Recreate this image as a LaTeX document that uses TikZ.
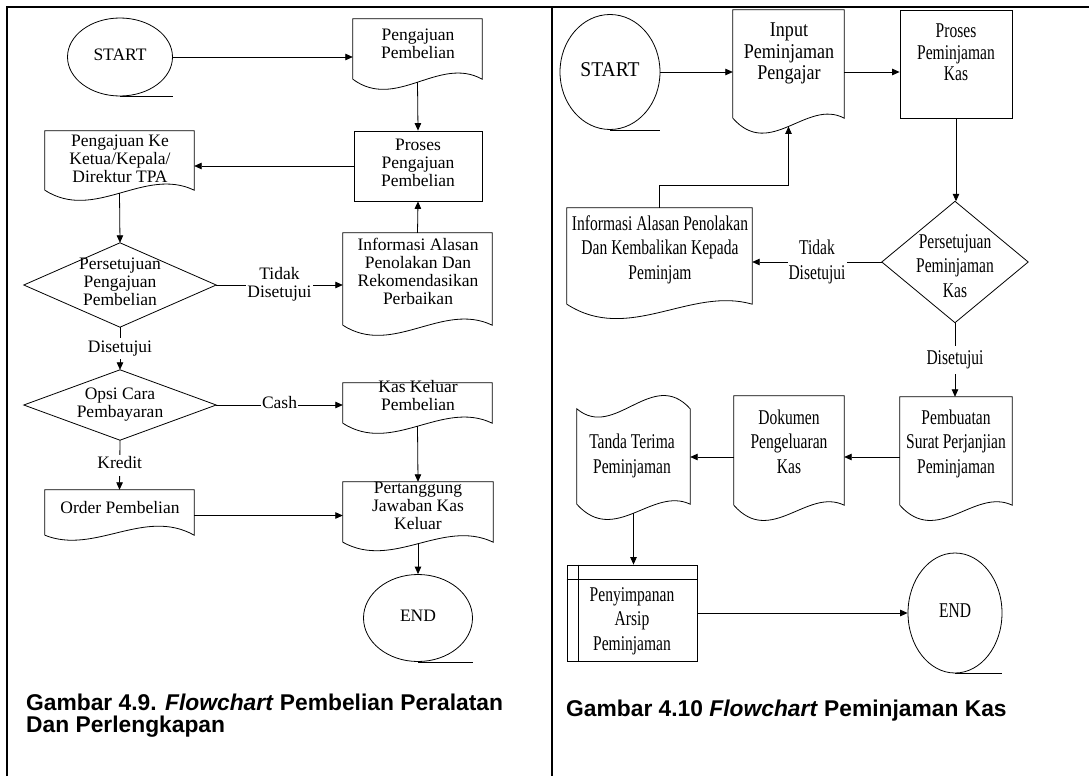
\documentclass[tikz,border=0pt]{standalone}
\usepackage{fontspec}
\usepackage{graphicx}
\setmainfont{Liberation Serif}
\newfontfamily\capfont{Liberation Sans}[BoldFont={Liberation Sans Bold},BoldItalicFont={Liberation Sans Bold Italic}]
\usetikzlibrary{arrows.meta,calc,shapes.geometric}

\newcommand\LT[1]{{\fontsize{17.5}{18}\selectfont\begin{tabular}{@{}c@{}}#1\end{tabular}}}
\newcommand\RT[2][0.74]{\scalebox{#1}[1]{\fontsize{21}{24.5}\selectfont\begin{tabular}{@{}c@{}}#2\end{tabular}}}
\newcommand\RTs[2][0.74]{\scalebox{#1}[1]{\fontsize{21}{21.5}\selectfont\begin{tabular}{@{}c@{}}#2\end{tabular}}}

% document outline: name, dip A, peak B
\newcommand\docout[3]{%
  \draw[shp] (#1.south west) -- (#1.north west) -- (#1.north east) -- (#1.south east)
    .. controls ($(#1.south east)!1/3!(#1.south west)+(0,-#3)$) and ($(#1.south east)!2/3!(#1.south west)+(0,#2)$) .. (#1.south west);
  \coordinate (#1-w) at ($(#1.south)+(0,{0.375*(#2-#3)})$);
}
% punched tape outline: name, bottom dip, bottom peak, top dip, top peak
\newcommand\tapeout[5]{%
  \draw[shp] (#1.north west)
    .. controls ($(#1.north west)!1/3!(#1.north east)+(0,#4)$) and ($(#1.north west)!2/3!(#1.north east)+(0,-#5)$) .. (#1.north east)
    -- (#1.south east)
    .. controls ($(#1.south east)!1/3!(#1.south west)+(0,-#3)$) and ($(#1.south east)!2/3!(#1.south west)+(0,#2)$) .. (#1.south west) -- cycle;
  \coordinate (#1-w) at ($(#1.south)+(0,{0.375*(#2-#3)})$);
}
\newcommand\diaout[1]{\draw[shp] (#1.north) -- (#1.east) -- (#1.south) -- (#1.west) -- cycle;}

\tikzset{
  shp/.style={draw, line width=0.8pt, line join=miter},
  arr/.style={line width=0.8pt, -{Triangle[length=7.5pt,width=6.5pt]}},
  box/.style={rectangle, draw=none, inner sep=0pt},
  rbox/.style={rectangle, draw, line width=0.8pt, inner sep=0pt},
  term/.style={ellipse, draw, line width=0.8pt, inner sep=0pt},
  txt/.style={inner sep=0pt, align=center},
  lbl/.style={fill=white, inner sep=1.5pt},
  frame/.style={line width=2.6pt},
  captxt/.style={inner sep=0pt, align=left, font=\capfont\bfseries\fontsize{22.8}{21.5}\selectfont}
}

\begin{document}
\begin{tikzpicture}[x=1pt,y=-1pt]
\useasboundingbox (0,0) rectangle (1089,776);
\fill[white] (0,0) rectangle (1089,776);

% frame
\draw[frame] (7,776) -- (7,7) -- (1089,7);
\draw[frame] (552,7) -- (552,776);

%================ LEFT PANEL =================
\node[term, minimum width=105, minimum height=78] (startL) at (120,57) {\raisebox{3pt}{\LT{START}}};
\draw[shp] (startL.south) -- (startL.south -| startL.east);

\node[box, minimum width=129, minimum height=60] (pp) at (417.5,49) {};
\docout{pp}{32}{24}
\node[txt] (pp-t) at (418,46) {\LT{Pengajuan\\Pembelian}};

\node[rbox, minimum width=128, minimum height=70] (pr1) at (418,166) {};
\node[txt] (pr1-t) at (418,165) {\LT{Proses\\Pengajuan\\Pembelian}};

\node[box, minimum width=149, minimum height=59] (pk) at (119.5,160.5) {};
\docout{pk}{32}{24}
\node[txt] (pk-t) at (120,161) {\LT{Pengajuan Ke\\Ketua/Kepala/\\Direktur TPA}};

\node[box, minimum width=192, minimum height=84] (d1) at (120,285) {};
\diaout{d1}
\node[txt] (d1-t) at (120,284) {\LT{Persetujuan\\Pengajuan\\Pembelian}};

\node[box, minimum width=149, minimum height=92] (info1) at (417.5,279) {};
\docout{info1}{32}{24}
\node[txt] (info1-t) at (418,274) {\LT{Informasi Alasan\\Penolakan Dan\\Rekomendasikan\\Perbaikan}};

\node[box, minimum width=192, minimum height=70] (d2) at (120,405) {};
\diaout{d2}
\node[txt] (d2-t) at (120,405) {\LT{Opsi Cara\\Pembayaran}};

\node[box, minimum width=149, minimum height=40] (kk) at (417.5,403) {};
\docout{kk}{32}{24}
\node[txt] (kk-t) at (418,398) {\LT{Kas Keluar\\Pembelian}};

\node[box, minimum width=149, minimum height=45] (order) at (119.5,512.5) {};
\docout{order}{20}{28}
\node[txt] (order-t) at (120,510) {\LT{Order Pembelian}};

\node[box, minimum width=150, minimum height=60] (pj) at (418,512) {};
\docout{pj}{28}{24}
\node[txt] (pj-t) at (418,508) {\LT{Pertanggung\\Jawaban Kas\\Keluar}};

\node[term, minimum width=109, minimum height=87] (endL) at (418,618) {\LT{END}};
\draw[shp] (endL.south) -- (endL.south -| endL.east);

% left connectors
\draw[arr] (startL.east) -- (startL.east -| pp.west);
\draw[arr] (pp-w) -- (pr1.north);
\draw[arr] (pr1.west) -- (pr1.west -| pk.east);
\draw[arr] (pk-w) -- (d1.north);
\draw[arr] (info1.north) -- (pr1.south);
\draw[arr] (d1.east) -- node[lbl] (lb1) {\LT{Tidak\\Disetujui}} (d1.east -| info1.west);
\draw[arr] (d1.south) -- node[lbl] (lb2) {\LT{Disetujui}} (d2.north);
\draw[arr] (d2.east) -- node[lbl, inner sep=1pt] (lb3) {\LT{Cash}} (d2.east -| kk.west);
\draw[arr] (d2.south) -- node[lbl] (lb4) {\LT{Kredit}} (order.north);
\draw[arr] (kk-w) -- (pj.north);
\draw[arr] ($(order.east)+(0,3)$) -- ($(order.east -| pj.west)+(0,3)$);
\draw[arr] (pj-w) -- (endL.north);

\node[captxt, anchor=base west] (capL) at (26,732) {Gambar 4.9. \textit{Flowchart} Pembelian Peralatan\\Dan Perlengkapan};

%================ RIGHT PANEL =================
\node[term, minimum width=100, minimum height=115] (startR) at (610,72) {\RT[0.93]{START}};
\draw[shp] (startR.south) -- (startR.south -| startR.east);

\node[box, minimum width=111, minimum height=108] (inp) at (788.5,64) {};
\docout{inp}{42}{20}
\node[txt] (inp-t) at (789,54) {\RTs[0.86]{Input\\Peminjaman\\Pengajar}};

\node[rbox, minimum width=112, minimum height=108] (pr2) at (956,64) {};
\node[txt] (pr2-t) at (956,55) {\RTs{Proses\\Peminjaman\\Kas}};

\node[box, minimum width=146, minimum height=121] (d3) at (955,262) {};
\diaout{d3}
\node[txt] (d3-t) at (955,268) {\RT{Persetujuan\\Peminjaman\\Kas}};

\node[box, minimum width=185, minimum height=96] (info2) at (659.5,256) {};
\docout{info2}{40}{18}
\node[txt] (info2-t) at (660,250) {\RT{Informasi Alasan Penolakan\\Dan Kembalikan Kepada\\Peminjam}};

\node[box, minimum width=112, minimum height=108] (pb) at (956,451) {};
\docout{pb}{42}{18}
\node[txt] (pb-t) at (956,444) {\RT{Pembuatan\\Surat Perjanjian\\Peminjaman}};

\node[box, minimum width=110, minimum height=109] (dk) at (789,450.5) {};
\docout{dk}{42}{18}
\node[txt] (dk-t) at (789,444) {\RT{Dokumen\\Pengeluaran\\Kas}};

\node[box, minimum width=113, minimum height=95] (tt) at (633.5,456.5) {};
\tapeout{tt}{42}{18}{32}{42}
\node[txt] (tt-t) at (632,456) {\RT{Tanda Terima\\Peminjaman}};

\node[rbox, minimum width=130, minimum height=96] (pen) at (632,613) {};
\draw[shp] ($(pen.north west)+(0,15)$) -- ($(pen.north east)+(0,15)$);
\draw[shp] ($(pen.north west)+(12,0)$) -- ($(pen.south west)+(12,0)$);
\node[txt] (pen-t) at (632,621) {\RT{Penyimpanan\\Arsip\\Peminjaman}};

\node[term, minimum width=94, minimum height=120] (endR) at (955,613) {\RT{END}};
\draw[shp] (endR.south) -- (endR.south -| endR.east);

% right connectors
\draw[arr] (startR.east) -- (startR.east -| inp.west);
\draw[arr] (inp.east |- startR.east) -- (pr2.west |- startR.east);
\draw[arr] (pr2.south) -- (pr2.south |- d3.north);
\draw[arr] (d3.west) -- node[lbl, inner sep=1pt] (lb5) {\RT{Tidak\\Disetujui}} (d3.west -| info2.east);
\draw[arr] (info2.north) -- ++(0,-22) -| (inp-w);
\draw[arr] (d3.south) -- node[lbl] (lb6) {\RT{Disetujui}} (d3.south |- pb.north);
\draw[arr] ($(pb.west)+(0,6)$) -- ($(pb.west -| dk.east)+(0,6)$);
\draw[arr] ($(dk.west)+(0,6.5)$) -- ($(dk.west -| tt.east)+(0,6.5)$);
\draw[arr] (tt-w) -- (tt-w |- pen.north);
\draw[arr] (pen.east) -- (endR.west);

\node[captxt, anchor=base west] (capR) at (566,716) {Gambar 4.10 \textit{Flowchart} Peminjaman Kas};

\end{tikzpicture}
\end{document}
